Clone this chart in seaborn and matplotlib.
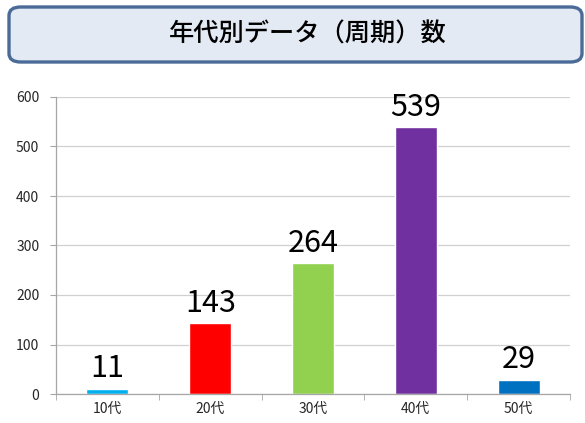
import matplotlib
matplotlib.use("Agg")
import matplotlib.pyplot as plt
import seaborn as sns
import pandas as pd
from matplotlib.patches import FancyBboxPatch

# data
ages = ['10代', '20代', '30代', '40代', '50代']
counts = [11, 143, 264, 539, 29]
colors = ['#00B0F0', '#FF0000', '#92D050', '#7030A0', '#0070C0']
title = '年代別データ（周期）数'

df = pd.DataFrame({'age': ages, 'count': counts})

sns.set_style('white')
plt.rcParams['font.family'] = ['Noto Sans CJK JP', 'DejaVu Sans']

fig = plt.figure(figsize=(5.85, 4.23), dpi=100)
ax = fig.add_axes([56 / 585, 1 - 394 / 423, 514 / 585, 297 / 423])

sns.barplot(data=df, x='age', y='count', hue='age', palette=colors,
            width=0.41, legend=False, ax=ax, saturation=1)

for p, v in zip(ax.patches, counts):
    ax.text(p.get_x() + p.get_width() / 2, v + 9, str(v),
            ha='center', va='bottom', fontsize=22, color='black')

ax.set_ylim(0, 600)
ax.set_xlim(-0.5, len(ages) - 0.5)
ax.set_yticks(range(0, 601, 100))
ax.yaxis.grid(True, color='#D0D0D0', linewidth=0.9)
ax.set_axisbelow(True)
ax.set_xlabel('')
ax.set_ylabel('')

for s in ['top', 'right']:
    ax.spines[s].set_visible(False)
for s in ['left', 'bottom']:
    ax.spines[s].set_color('#A6A6A6')
    ax.spines[s].set_linewidth(0.9)

ax.set_xticks([i - 0.5 for i in range(len(ages) + 1)], minor=True)
ax.tick_params(axis='x', which='major', length=0, labelsize=10, pad=6)
ax.tick_params(axis='x', which='minor', length=4, color='#A6A6A6', direction='out', bottom=True)
ax.tick_params(axis='y', length=4, color='#A6A6A6', labelsize=10, left=True, pad=8)

# title box
box = FancyBboxPatch((9 / 585, 1 - 62 / 423), 573 / 585, 55 / 423,
                     boxstyle='round,pad=0,rounding_size=0.02',
                     transform=fig.transFigure, facecolor='#E4EAF4',
                     edgecolor='#4A6A97', linewidth=2.4, zorder=0)
fig.patches.append(box)
fig.text(308 / 585, 1 - 35 / 423, title, ha='center', va='center', fontsize=18.2,
         fontweight='medium', color='black')

fig.savefig('out.png', dpi=100)
